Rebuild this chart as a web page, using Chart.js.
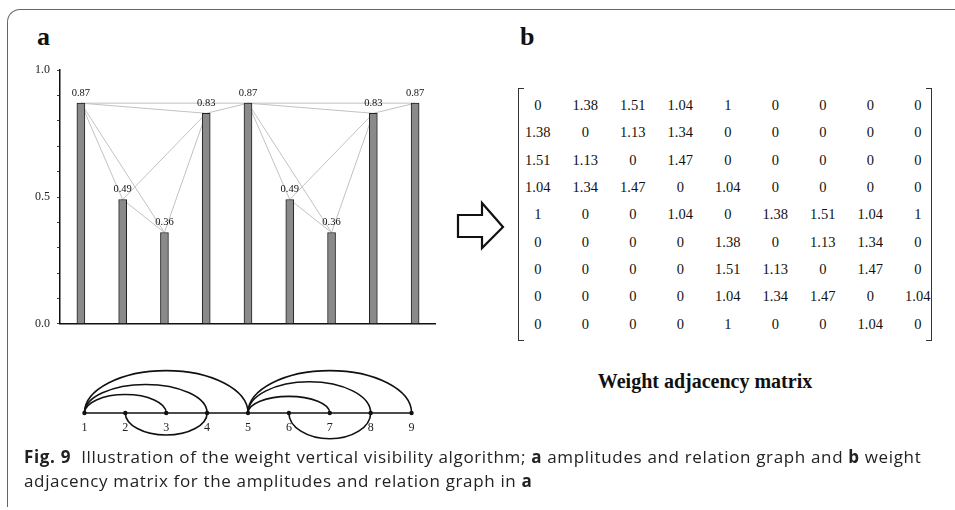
<!DOCTYPE html>
<html>
<head>
<meta charset="utf-8">
<script src="https://cdn.jsdelivr.net/npm/chart.js@4.4.1/dist/chart.umd.min.js"></script>
<style>
  body { margin: 0; width: 955px; height: 510px; overflow: hidden; background: #fff; position: relative; font-family: 'Liberation Serif', serif; color: #111; }
  .frame { position: absolute; left: 7px; top: 9px; width: 990px; height: 497px; border-top: 1.5px solid #666; border-left: 1.5px solid #666; border-top-left-radius: 13px; }
  .panel { position: absolute; font-weight: bold; font-size: 26px; line-height: 26px; }
  .box { position: absolute; }
  #matrix { position: absolute; left: 514px; top: 92px; border-collapse: collapse; font-size: 14.5px; }
  #matrix td { width: 47.5px; height: 27.3px; padding: 0; text-align: center; }
  .brk { position: absolute; top: 88px; width: 5px; height: 251px; border: 1.5px solid #333; }
  .mtitle { position: absolute; left: 555px; width: 300px; top: 370px; text-align: center; font-weight: bold; font-size: 20px; }
  .caption { position: absolute; left: 24px; top: 445px; font-family: 'Open Sans', sans-serif; font-size: 17px; letter-spacing: 0.65px; line-height: 24px; color: #222; white-space: nowrap; }
</style>
</head>
<body>
<div class="frame"></div>
<div class="panel" style="left:37px; top:24px;">a</div>
<div class="panel" style="left:520px; top:24px;">b</div>

<div class="box" style="left:20px; top:56px;"><canvas id="bars" width="416" height="282"></canvas></div>
<div class="box" style="left:60px; top:351px;"><canvas id="graph" width="376" height="100"></canvas></div>

<svg class="box" style="left:440px; top:190px;" width="80" height="70">
  <polygon points="18,25 42,25 42,13 63,37 42,58 42,47 18,47" fill="#fff" stroke="#111" stroke-width="2.2" stroke-linejoin="miter"/>
</svg>

<div class="brk" style="left:518px; border-right:none;"></div>
<div class="brk" style="left:926px; border-left:none;"></div>
<table id="matrix"></table>
<div class="mtitle">Weight adjacency matrix</div>

<div class="caption"><b>Fig. 9</b>&nbsp; Illustration of the weight vertical visibility algorithm; <b>a</b> amplitudes and relation graph and <b>b</b> weight<br>adjacency matrix for the amplitudes and relation graph in <b>a</b></div>

<script>
const nodes = ['1', '2', '3', '4', '5', '6', '7', '8', '9'];
const amplitudes = [0.87, 0.49, 0.36, 0.83, 0.87, 0.49, 0.36, 0.83, 0.87];
const yTickLabels = [0.0, 0.5, 1.0];

const weightMatrix = [
    [0, 1.38, 1.51, 1.04, 1, 0, 0, 0, 0],
    [1.38, 0, 1.13, 1.34, 0, 0, 0, 0, 0],
    [1.51, 1.13, 0, 1.47, 0, 0, 0, 0, 0],
    [1.04, 1.34, 1.47, 0, 1.04, 0, 0, 0, 0],
    [1, 0, 0, 1.04, 0, 1.38, 1.51, 1.04, 1],
    [0, 0, 0, 0, 1.38, 0, 1.13, 1.34, 0],
    [0, 0, 0, 0, 1.51, 1.13, 0, 1.47, 0],
    [0, 0, 0, 0, 1.04, 1.34, 1.47, 0, 1.04],
    [0, 0, 0, 0, 1, 0, 0, 1.04, 0]
];

// relation graph arcs (height > 0 above the line, < 0 below)
const arcFrom = [1, 1, 1, 2, 5, 5, 5, 6];
const arcTo = [3, 4, 5, 4, 7, 8, 9, 8];
const arcHeight = [20, 31, 46, -24, 18, 34, 46, -28];

const serif = 'Liberation Serif';

// matrix text
const table = document.getElementById('matrix');
weightMatrix.forEach(row => {
    const tr = document.createElement('tr');
    row.forEach(v => {
        const td = document.createElement('td');
        td.textContent = String(v);
        tr.appendChild(td);
    });
    table.appendChild(tr);
});

// visibility lines between bar tops, one per non-zero weight
const edgeSets = [];
weightMatrix.forEach((row, i) => row.forEach((w, j) => {
    if (j > i && w > 0) {
        const d = nodes.map(() => null);
        d[i] = amplitudes[i];
        d[j] = amplitudes[j];
        edgeSets.push({
            type: 'line', data: d, spanGaps: true,
            borderColor: '#c2c2c2', borderWidth: 1,
            pointRadius: 0, order: 2
        });
    }
}));

const barLabels = {
    id: 'barLabels',
    afterDatasetsDraw(chart) {
        const c = chart.ctx;
        c.save();
        c.font = '10.5px "' + serif + '"';
        c.fillStyle = '#111';
        c.textAlign = 'center';
        c.textBaseline = 'bottom';
        chart.getDatasetMeta(0).data.forEach((bar, i) => {
            c.fillText(amplitudes[i].toFixed(2), bar.x, bar.y - 5);
        });
        c.restore();
    }
};

new Chart(document.getElementById('bars'), {
    type: 'bar',
    data: {
        labels: nodes,
        datasets: [{
            data: amplitudes,
            backgroundColor: '#8a8a8a',
            borderColor: '#222',
            borderWidth: 1,
            barThickness: 8,
            order: 1
        }, ...edgeSets]
    },
    options: {
        responsive: false,
        animation: false,
        events: [],
        layout: { padding: { top: 10, right: 0, bottom: 0, left: 0 } },
        plugins: { legend: { display: false }, tooltip: { enabled: false } },
        scales: {
            x: {
                grid: { display: false },
                ticks: { display: false },
                border: { color: '#111', width: 1.5 }
            },
            y: {
                min: 0, max: 1,
                afterFit: s => { s.width = 40; },
                ticks: {
                    stepSize: 0.1, padding: 7, color: '#222',
                    font: { family: serif, size: 12 },
                    callback: v => yTickLabels.some(t => Math.abs(t - v) < 1e-6) ? v.toFixed(1) : ''
                },
                grid: { drawOnChartArea: false, tickLength: 3, color: '#444' },
                border: { color: '#111', width: 1.5 }
            }
        }
    },
    plugins: [barLabels]
});

const arcs = {
    id: 'arcs',
    afterDatasetsDraw(chart) {
        const { ctx: c, scales: { x, y } } = chart;
        const y0 = y.getPixelForValue(0);
        c.save();
        c.strokeStyle = '#111';
        c.lineWidth = 1.6;
        arcFrom.forEach((a, k) => {
            const xa = x.getPixelForValue(a - 1);
            const xb = x.getPixelForValue(arcTo[k] - 1);
            const ry = Math.abs(y.getPixelForValue(arcHeight[k]) - y0);
            c.beginPath();
            if (arcHeight[k] > 0) c.ellipse((xa + xb) / 2, y0, (xb - xa) / 2, ry, 0, Math.PI, 2 * Math.PI);
            else c.ellipse((xa + xb) / 2, y0, (xb - xa) / 2, ry, 0, 0, Math.PI);
            c.stroke();
        });
        c.restore();
    }
};

new Chart(document.getElementById('graph'), {
    type: 'line',
    data: {
        labels: nodes,
        datasets: [{
            data: nodes.map(() => 0),
            borderColor: '#111',
            borderWidth: 1.5,
            pointRadius: 2.2,
            pointBackgroundColor: '#111',
            pointBorderWidth: 0,
            clip: false
        }]
    },
    options: {
        responsive: false,
        animation: false,
        events: [],
        layout: { padding: 0 },
        plugins: { legend: { display: false }, tooltip: { enabled: false } },
        scales: {
            x: {
                offset: true,
                position: { y: 0 },
                grid: { display: false },
                border: { display: false },
                ticks: { padding: 0, color: '#222', font: { family: serif, size: 12 } }
            },
            y: { display: false, min: -37, max: 63 }
        }
    },
    plugins: [arcs]
});
</script>
</body>
</html>
